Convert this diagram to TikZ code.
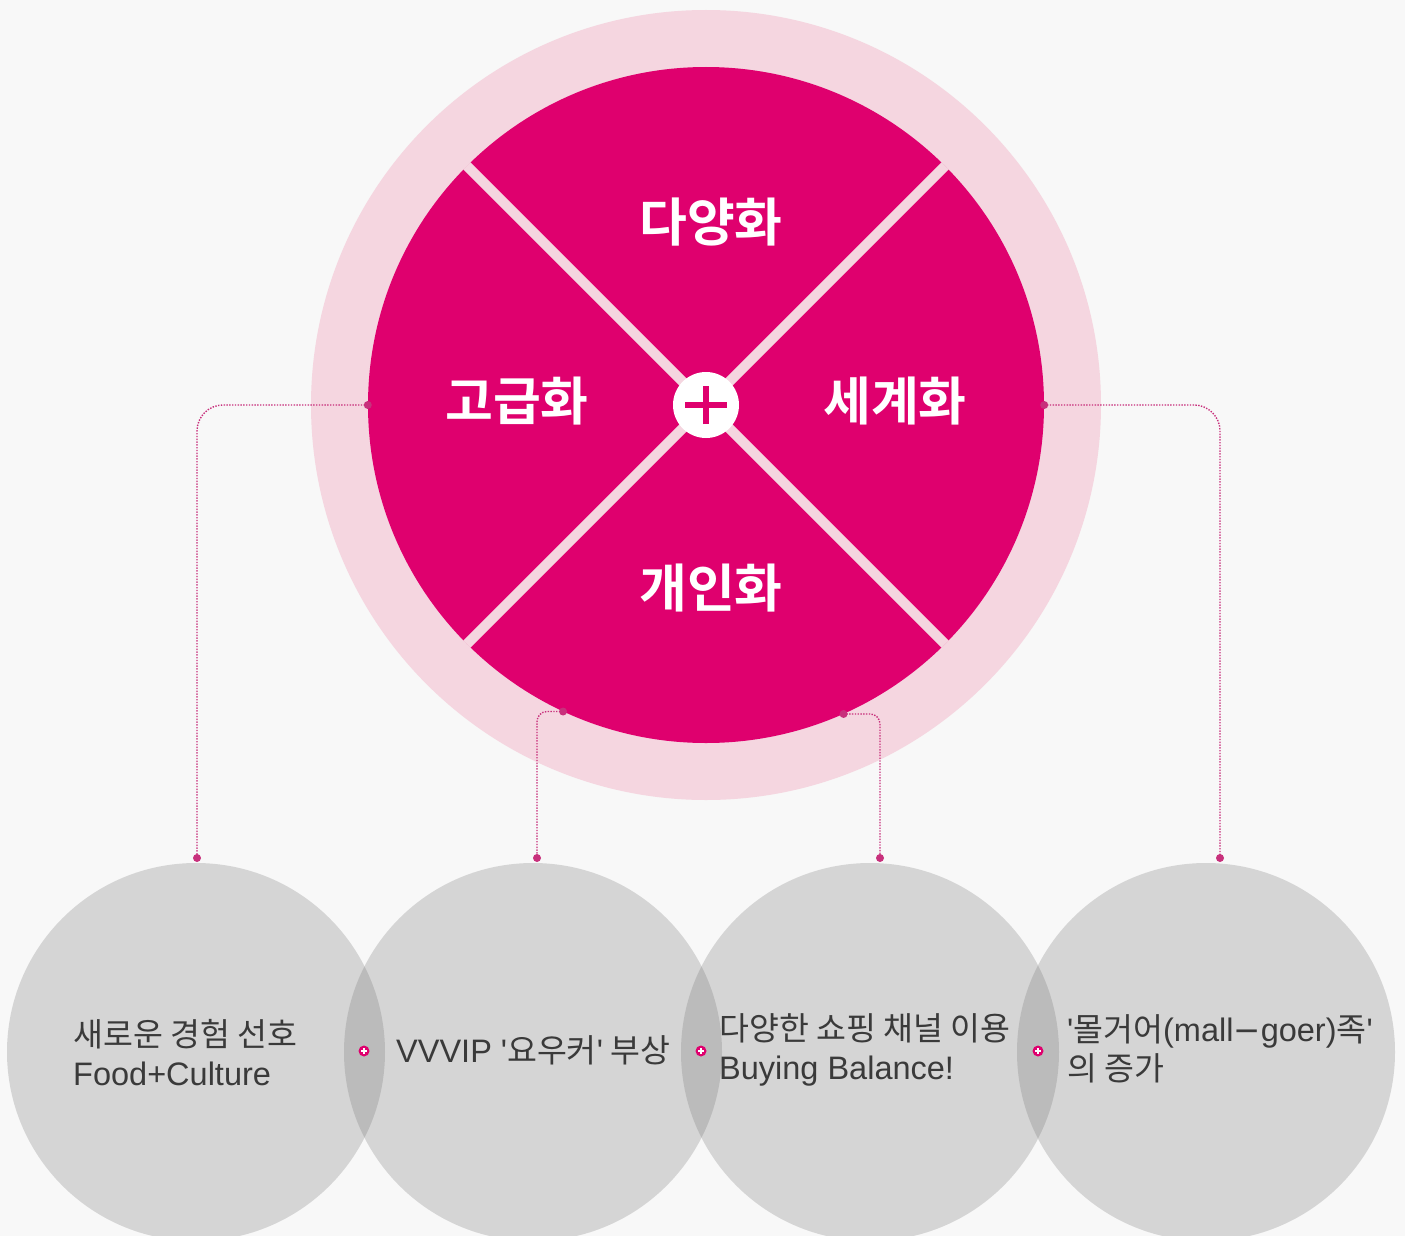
\documentclass[tikz,border=0pt]{standalone}
\usepackage{fontspec}
\setmainfont{Noto Sans CJK KR}[BoldFont={Noto Sans CJK KR Bold}]
\newfontfamily\lat{Liberation Sans}
\definecolor{bgc}{HTML}{F8F8F8}
\definecolor{ringc}{HTML}{F5D6E0}
\definecolor{magc}{HTML}{DF006E}
\definecolor{dotc}{HTML}{C8307C}
\definecolor{txtc}{HTML}{3A3A3A}
\definecolor{bubc}{HTML}{676767}
\begin{document}
\begin{tikzpicture}[x=1pt,y=-1pt,
  quad/.style={text=white,font=\bfseries\fontsize{52}{52}\selectfont,inner sep=0},
  bub/.style={circle,fill=bubc,fill opacity=0.235,minimum size=378pt,inner sep=0},
  btxt/.style={anchor=west,align=left,text=txtc,inner sep=0,font=\fontsize{32.5}{39}\selectfont},
  link/.style={draw=dotc,line width=1.4pt,dash pattern=on 1.4pt off 1.4pt},
  pm/.style={circle,fill=magc,minimum size=11pt,inner sep=0},
  sep/.style={draw=ringc,line width=10pt}]
\fill[bgc] (0,0) rectangle (1405,1236);
\useasboundingbox (0,0) rectangle (1405,1236);
% central wheel
\node[circle,fill=ringc,minimum size=790pt,inner sep=0] (ring) at (706,405) {};
\node[circle,fill=magc,minimum size=676pt,inner sep=0] (core) at (706,405) {};
\draw[sep] (core.135) -- (core.315);
\draw[sep] (core.45) -- (core.225);
\node[circle,fill=white,minimum size=66pt,inner sep=0] (hub) at (core.center) {};
\draw[magc,line width=6pt] ([xshift=-21pt]hub.center) -- ([xshift=21pt]hub.center);
\draw[magc,line width=6pt] ([yshift=-19pt]hub.center) -- ([yshift=19pt]hub.center);
\node[quad] (q1) at (711,222) {다양화};
\node[quad] (q2) at (517,401) {고급화};
\node[quad] (q3) at (895,401) {세계화};
\node[quad] (q4) at (711,588) {개인화};
% bottom bubbles
\node[bub] (c1) at (196,1052) {};
\node[bub] (c2) at (533,1052) {};
\node[bub] (c3) at (870,1052) {};
\node[bub] (c4) at (1206,1052) {};
\node[btxt] (t1) at (73,1053) {새로운 경험 선호\\{\lat Food+Culture}};
\node[btxt] (t2) at (396,1050) {{\lat VVVIP '}요우커{\lat '} 부상};
\node[btxt] (t3) at (719,1050) {다양한 쇼핑 채널 이용\\{\lat Buying Balance!}};
\node[btxt] (t4) at (1067,1049) {{\lat '}몰거어{\lat (mall{\fontspec{DejaVu Sans}−}goer)}족{\lat '}\\의 증가};
% plus markers
\foreach \n/\x in {p1/364,p2/701,p3/1038}{
  \node[pm] (\n) at (\x,1051) {};
  \draw[white,line width=1.3pt] ([xshift=-3pt]\n.center) -- ([xshift=3pt]\n.center);
  \draw[white,line width=1.3pt] ([yshift=-3pt]\n.center) -- ([yshift=3pt]\n.center);
}
% connectors
\coordinate (d1) at (197,858);
\coordinate (d2) at (537,858);
\coordinate (d3) at (880,858);
\coordinate (d4) at (1220,858);
\draw[link,rounded corners=26pt] (core.180) -| (d1);
\draw[link,rounded corners=26pt] (core.0) -| (d4);
\draw[link,rounded corners=10pt] (core.245.6) -| (d2);
\draw[link,rounded corners=10pt] (core.294.6) -| (d3);
\foreach \p in {core.180,core.0,core.245.6,core.294.6,d1,d2,d3,d4}{
  \fill[dotc] (\p) circle[radius=4];
}
\end{tikzpicture}
\end{document}
